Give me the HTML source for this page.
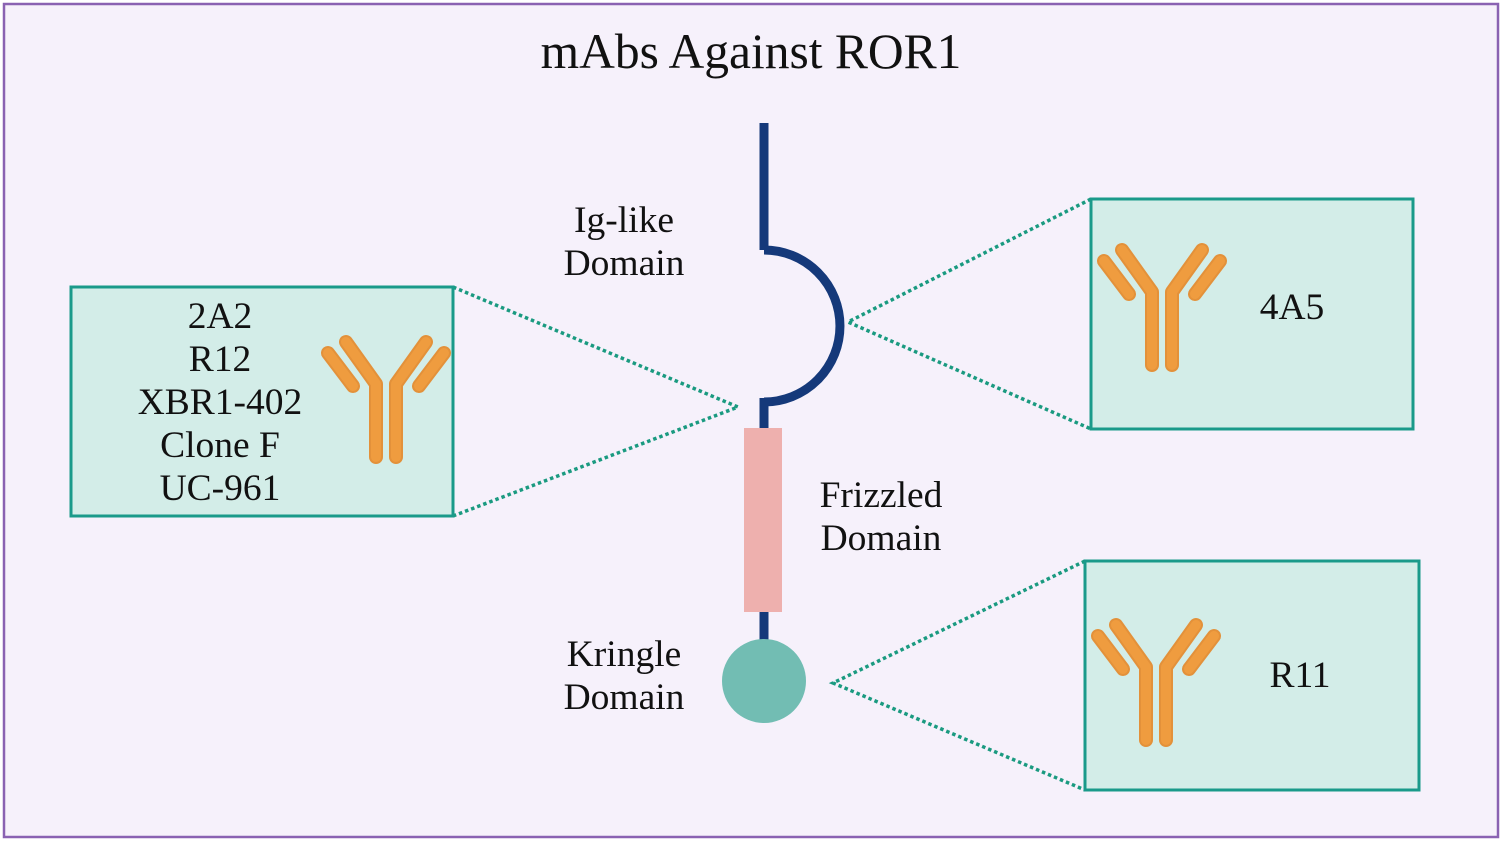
<!DOCTYPE html>
<html><head><meta charset="utf-8"><style>
html,body{margin:0;padding:0;background:#fff}
svg{display:block}
text{font-family:"Liberation Serif",serif;fill:#111}
</style></head><body>
<svg width="1505" height="846" viewBox="0 0 1505 846" xmlns="http://www.w3.org/2000/svg">
<defs>
<g id="ab" fill="none" stroke-linecap="round" stroke-linejoin="round">
<g stroke="#e3913a" stroke-width="14">
<path d="M19 31 L44 64"/><path d="M37 20 L67 62 L67 135"/><path d="M87 135 L87 62 L117 20"/><path d="M135 31 L110 64"/>
</g>
<g stroke="#ef9c3f" stroke-width="10">
<path d="M19 31 L44 64"/><path d="M37 20 L67 62 L67 135"/><path d="M87 135 L87 62 L117 20"/><path d="M135 31 L110 64"/>
</g>
</g>
</defs>
<rect x="4" y="4" width="1494" height="833" fill="#f6f1fb" stroke="#8a62b2" stroke-width="2.5"/>
<text x="751" y="68" font-size="49.5" text-anchor="middle">mAbs Against ROR1</text>
<g stroke="#1a9a80" stroke-width="3.5" stroke-dasharray="3.5 3" fill="none">
<path d="M453 287 L738 407 L453 516"/>
<path d="M1091 199 L848 322 L1091 429"/>
<path d="M1085 561 L833 683 L1085 790"/>
</g>
<rect x="71" y="287" width="382" height="229" fill="#d3ede8" stroke="#1a9a8a" stroke-width="3"/>
<rect x="1091" y="199" width="322" height="230" fill="#d3ede8" stroke="#1a9a8a" stroke-width="3"/>
<rect x="1085" y="561" width="334" height="229" fill="#d3ede8" stroke="#1a9a8a" stroke-width="3"/>
<use href="#ab" transform="translate(309,322)"/>
<use href="#ab" transform="translate(1085,230)"/>
<use href="#ab" transform="translate(1079,605)"/>
<g font-size="37.5" text-anchor="middle">
<text x="220" y="328">2A2</text>
<text x="220" y="371">R12</text>
<text x="220" y="414">XBR1-402</text>
<text x="220" y="457">Clone F</text>
<text x="220" y="500">UC-961</text>
<text x="1292" y="319">4A5</text>
<text x="1300" y="687">R11</text>
<text x="624" y="232">Ig-like</text>
<text x="624" y="275">Domain</text>
<text x="881" y="507">Frizzled</text>
<text x="881" y="550">Domain</text>
<text x="624" y="666">Kringle</text>
<text x="624" y="709">Domain</text>
</g>
<g stroke="#15397a" stroke-width="9" fill="none">
<path d="M764 123 L764 250"/>
<path d="M764 250 A76 76 0 0 1 764 402"/>
<path d="M764 398 L764 430"/>
<path d="M764 610 L764 642"/>
</g>
<rect x="744" y="428" width="38" height="184" fill="#eeb0ae"/>
<circle cx="764" cy="681" r="42" fill="#72bdb3"/>
</svg>
</body></html>
